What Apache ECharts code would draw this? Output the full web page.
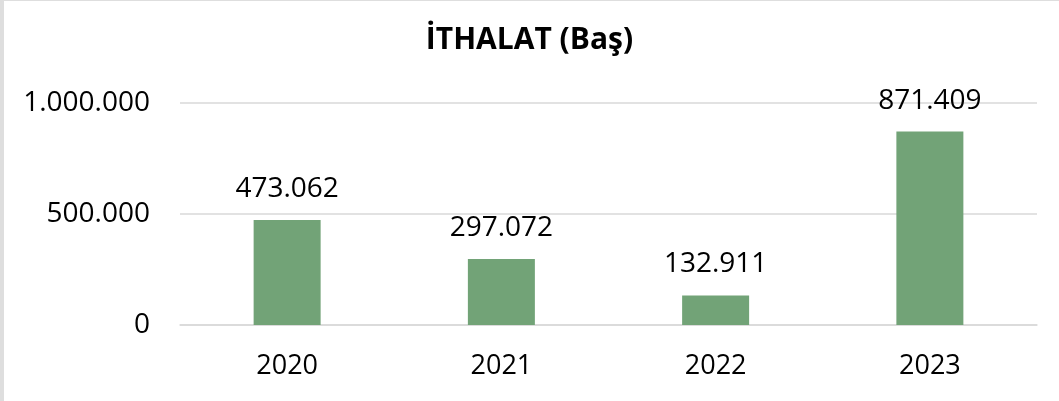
<!DOCTYPE html>
<html>
<head>
<meta charset="utf-8">
<script src="https://cdn.jsdelivr.net/npm/echarts@6/dist/echarts.min.js"></script>
<style>
  html, body { margin: 0; padding: 0; background: #fff; }
  #wrap { position: relative; width: 1059px; height: 401px; overflow: hidden; }
  #chart { width: 1059px; height: 401px; }
  .edge-left { position: absolute; left: 0; top: 0; width: 4px; height: 401px; background: #dedede; }
  .edge-top { position: absolute; left: 0; top: 0; width: 1059px; height: 1px; background: #dedede; }
</style>
</head>
<body>
<div id="wrap">
  <div id="chart"></div>
  <div class="edge-left"></div>
  <div class="edge-top"></div>
</div>
<script>
// Import counts per year (head)
var years = ['2020', '2021', '2022', '2023'];
var imports = [473062, 297072, 132911, 871409];
var yTicks = [0, 500000, 1000000];

var FONT = '"Open Sans", sans-serif';

// Turkish style thousands separator: 1.000.000
function fmt(v) {
  return String(Math.round(v)).replace(/\B(?=(\d{3})+(?!\d))/g, '.');
}

var chart = echarts.init(document.getElementById('chart'), null, { renderer: 'canvas' });
chart.setOption({
  backgroundColor: '#ffffff',
  animation: false,
  title: {
    text: 'İTHALAT (Baş)',
    left: 'center',
    top: 20,
    textStyle: { fontFamily: FONT, fontSize: 30, fontWeight: 'bold', color: '#000' }
  },
  grid: { left: 180, right: 22, top: 103, bottom: 76 },
  xAxis: {
    type: 'category',
    data: years,
    axisLine: { show: true, lineStyle: { color: '#d9d9d9', width: 1.5 } },
    axisTick: { show: false },
    axisLabel: { fontFamily: FONT, fontSize: 27, color: '#000', margin: 28 }
  },
  yAxis: {
    type: 'value',
    min: yTicks[0],
    max: yTicks[yTicks.length - 1],
    interval: yTicks[1] - yTicks[0],
    axisLine: { show: false },
    axisTick: { show: false },
    splitLine: { lineStyle: { color: '#d9d9d9', width: 1.5 } },
    axisLabel: { fontFamily: FONT, fontSize: 28, color: '#000', margin: 30, formatter: fmt }
  },
  series: [{
    type: 'bar',
    data: imports,
    barWidth: 67,
    itemStyle: { color: '#72a377' },
    label: {
      show: true,
      position: 'top',
      distance: 17,
      fontFamily: FONT,
      fontSize: 28,
      color: '#000',
      formatter: function (p) { return fmt(p.value); }
    }
  }]
});
</script>
</body>
</html>
